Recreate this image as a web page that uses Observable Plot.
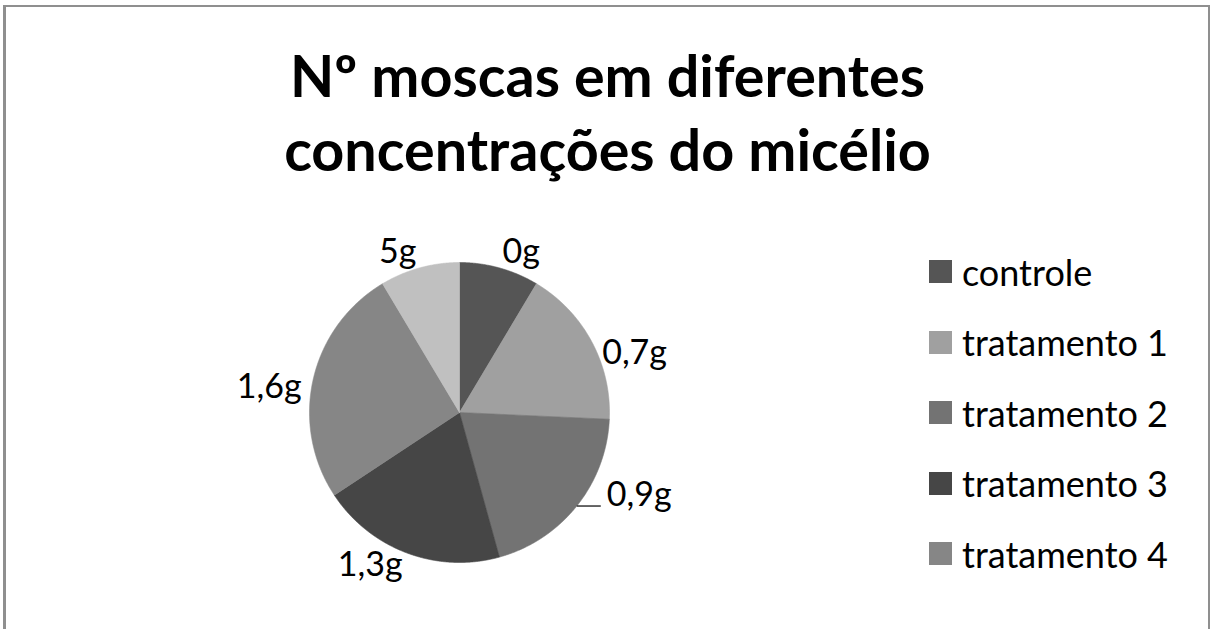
<!DOCTYPE html>
<html><head><meta charset="utf-8">
<script src="https://cdn.jsdelivr.net/npm/d3@7"></script>
<script src="https://cdn.jsdelivr.net/npm/@observablehq/plot@0.6"></script>
<style>
html,body{margin:0;padding:0;background:#fff;}
#page{position:relative;width:1211px;height:629px;overflow:hidden;font-family:Lato,"Open Sans",sans-serif;color:#000;}
#frame{position:absolute;left:3px;top:5px;width:1207px;height:700px;border-style:solid;border-color:#8f8f8f;border-width:2px 2px 2px 3px;box-sizing:border-box;}
#title{position:absolute;left:2px;top:38px;width:1211px;text-align:center;font-weight:700;font-size:57.5px;line-height:74px;}
#chart{position:absolute;left:0;top:190px;}
#legend{position:absolute;left:929px;top:260px;}
.item{display:flex;align-items:center;height:23px;margin-bottom:47.5px;font-size:36px;white-space:nowrap;}
.sw{width:23px;height:23px;margin-right:10px;flex:none;}
</style></head>
<body>
<div id="page">
  <div id="frame"></div>
  <div id="title">Nº moscas em diferentes<br>concentrações do micélio</div>
  <div id="chart"></div>
  <div id="legend"></div>
</div>
<script>
// ---- data ----
const slices = ["0g", "0,7g", "0,9g", "1,3g", "1,6g", "5g"];
const counts = [3, 6, 7, 7, 9, 3];
const sliceColors = ["#555555", "#a0a0a0", "#737373", "#464646", "#868686", "#c0c0c0"];
const legendNames = ["controle", "tratamento 1", "tratamento 2", "tratamento 3", "tratamento 4"];
const leaderFor = "0,9g";

// ---- layout ----
const W = 1211, H = 439, cx = 459, cy = 222, rPx = 150;

const arcs = d3.pie().sort(null).value(d => d)(counts);
const poly = [];
arcs.forEach((a, i) => {
  const c = sliceColors[i];
  poly.push({x: 0, y: 0, k: i, c});
  const n = Math.max(2, Math.ceil((a.endAngle - a.startAngle) / 0.004));
  for (let j = 0; j <= n; j++) {
    const t = a.startAngle + (a.endAngle - a.startAngle) * j / n;
    poly.push({x: Math.sin(t), y: Math.cos(t), k: i, c});
  }
  poly.push({x: 0, y: 0, k: i, c});
});

// label placement: horizontal offset along the mid-angle, vertical distance
// flattened for slices pointing sideways (approximates the spreadsheet's "best fit")
const labR = 1.08;
const labels = arcs.map((a, i) => {
  const m = (a.startAngle + a.endAngle) / 2;
  const s = Math.sin(m), co = Math.cos(m);
  const lead = slices[i] === leaderFor;
  const anchor = s > 0.15 ? "start" : s < -0.15 ? "end" : "middle";
  return {
    name: slices[i],
    ex: s, ey: co,
    x: lead ? s + 30 / rPx : labR * s,
    y: lead ? co + 11 / rPx : co * (170 - 58 * s * s) / rPx,
    anchor, lead
  };
});

const txt = anchor => Plot.text(labels.filter(d => d.anchor === anchor && !d.lead), {
  x: "x", y: "y", text: "name", textAnchor: anchor, lineAnchor: "middle",
  fontSize: 34, fill: "#000"
});

const chart = Plot.plot({
  width: W, height: H, margin: 0,
  style: {fontFamily: "Lato, 'Open Sans', sans-serif", background: "transparent"},
  x: {domain: [-cx / rPx, (W - cx) / rPx], axis: null},
  y: {domain: [-(H - cy) / rPx, cy / rPx], axis: null},
  color: {type: "identity"},
  marks: [
    Plot.line(poly, {x: "x", y: "y", z: "k", fill: "c", stroke: "c", strokeWidth: 0.6}),
    txt("start"), txt("end"), txt("middle"),
    Plot.text(labels.filter(d => d.lead), {x: "x", y: "y", text: "name", textAnchor: "start", lineAnchor: "middle", fontSize: 34, fill: "#000"}),
    Plot.link(labels.filter(d => d.lead), {x1: "ex", y1: "ey", x2: d => d.ex + 24 / rPx, y2: "ey", stroke: "#000", strokeWidth: 1.2})
  ]
});
document.getElementById("chart").appendChild(chart);

const leg = document.getElementById("legend");
legendNames.forEach((n, i) => {
  const it = document.createElement("div");
  it.className = "item";
  const sw = document.createElement("div");
  sw.className = "sw";
  sw.style.background = sliceColors[i];
  const tx = document.createElement("span");
  tx.textContent = n;
  it.appendChild(sw); it.appendChild(tx);
  leg.appendChild(it);
});
</script>
</body></html>
